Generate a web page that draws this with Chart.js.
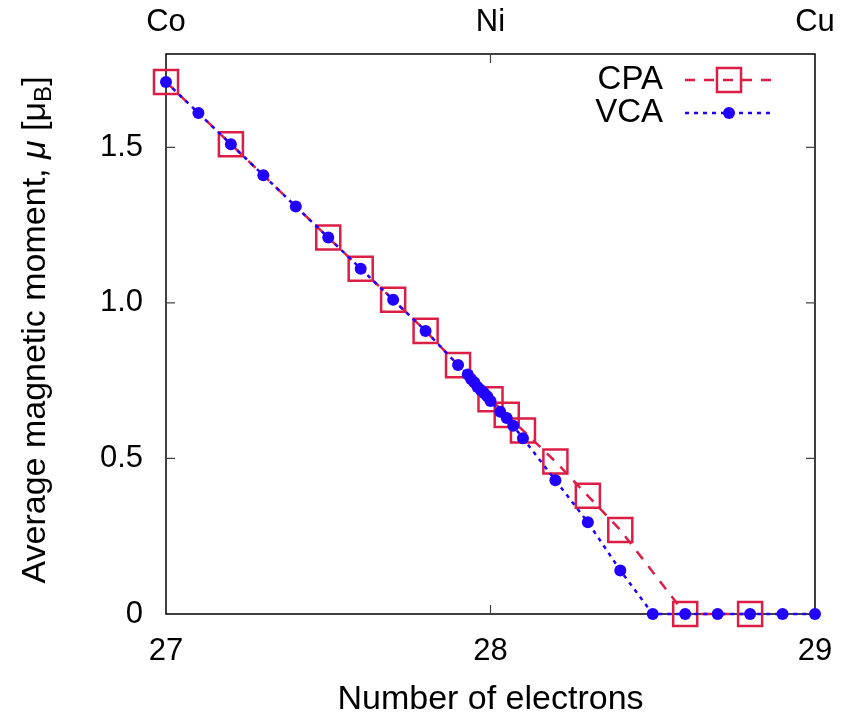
<!DOCTYPE html>
<html>
<head>
<meta charset="utf-8">
<script src="https://cdn.jsdelivr.net/npm/chart.js@4/dist/chart.umd.min.js"></script>
<style>
  body { margin: 0; background: #fff; }
  canvas { display: block; }
</style>
</head>
<body>
<canvas id="myChart" width="842" height="720"></canvas>
<script>
// values
const xCPA = [27, 27.2, 27.5, 27.6, 27.7, 27.8, 27.9, 28.0, 28.05, 28.1, 28.2, 28.3, 28.4, 28.6, 28.8];
const muCPA = [1.71, 1.51, 1.21, 1.11, 1.01, 0.91, 0.80, 0.69, 0.64, 0.59, 0.49, 0.38, 0.27, 0, 0];

const xVCA = [27, 27.1, 27.2, 27.3, 27.4, 27.5, 27.6, 27.7, 27.8, 27.9, 27.93, 27.94, 27.95, 27.96, 27.97,
              27.98, 27.99, 28.0, 28.03, 28.05, 28.07, 28.1, 28.2, 28.3, 28.4, 28.5, 28.6, 28.7, 28.8, 28.9, 29];
const muVCA = [1.71, 1.61, 1.51, 1.41, 1.31, 1.21, 1.11, 1.01, 0.91, 0.80, 0.77, 0.755, 0.745, 0.73, 0.72,
               0.71, 0.70, 0.685, 0.65, 0.63, 0.605, 0.565, 0.43, 0.295, 0.14, 0, 0, 0, 0, 0, 0];

const xTicks = [27, 28, 29];
const topLabels = ['Co', 'Ni', 'Cu'];
const yTicks = [0, 0.5, 1.0, 1.5];

const FONT = '"Liberation Sans", Arial, sans-serif';
const red = '#dc1e46';
const blue = '#2200ff';

Chart.defaults.font.family = FONT;
Chart.defaults.color = '#000';

const toPoints = (xs, ys) => xs.map((x, i) => ({ x: x, y: ys[i] }));

// frame, inward ticks, y title and gnuplot-like key
const framePlugin = {
  id: 'frame',
  beforeDatasetsDraw(chart) {
    const { ctx, chartArea: a, scales } = chart;
    ctx.save();
    ctx.strokeStyle = '#000';
    ctx.lineWidth = 1.5;
    ctx.strokeRect(a.left, a.top, a.right - a.left, a.bottom - a.top);
    ctx.lineWidth = 1.2;
    ctx.strokeStyle = '#444';
    const len = 9;
    yTicks.forEach(v => {
      if (v === 0) return;
      const py = scales.y.getPixelForValue(v);
      ctx.beginPath();
      ctx.moveTo(a.left, py); ctx.lineTo(a.left + len, py);
      ctx.moveTo(a.right, py); ctx.lineTo(a.right - len, py);
      ctx.stroke();
    });
    xTicks.forEach(v => {
      if (v === 27 || v === 29) return;
      const px = scales.x.getPixelForValue(v);
      ctx.beginPath();
      ctx.moveTo(px, a.bottom); ctx.lineTo(px, a.bottom - len);
      ctx.moveTo(px, a.top); ctx.lineTo(px, a.top + len);
      ctx.stroke();
    });
    ctx.restore();
  },
  afterDraw(chart) {
    const { ctx, chartArea: a } = chart;
    ctx.save();
    // y axis title with italic mu and subscript B
    const size = 34;
    const parts = [
      { t: 'Average magnetic moment, ', f: `${size}px ${FONT}`, dy: 0 },
      { t: 'μ', f: `italic ${size}px ${FONT}`, dy: 0 },
      { t: ' [μ', f: `${size}px ${FONT}`, dy: 0 },
      { t: 'B', f: `${Math.round(size * 0.7)}px ${FONT}`, dy: 8 },
      { t: ']', f: `${size}px ${FONT}`, dy: 0 }
    ];
    let total = 0;
    parts.forEach(p => { ctx.font = p.f; p.w = ctx.measureText(p.t).width; total += p.w; });
    ctx.translate(36, (a.top + a.bottom) / 2 - 4);
    ctx.rotate(-Math.PI / 2);
    ctx.fillStyle = '#000';
    ctx.textBaseline = 'middle';
    ctx.textAlign = 'left';
    let x = -total / 2;
    parts.forEach(p => { ctx.font = p.f; ctx.fillText(p.t, x, p.dy); x += p.w; });
    ctx.restore();

    // key
    ctx.save();
    const rows = [
      { label: 'CPA', ds: chart.data.datasets[0], y: 80 },
      { label: 'VCA', ds: chart.data.datasets[1], y: 113 }
    ];
    rows.forEach(r => {
      ctx.font = `33px ${FONT}`;
      ctx.fillStyle = '#000';
      ctx.textAlign = 'right';
      ctx.textBaseline = 'middle';
      ctx.fillText(r.label, 663, r.y);
      ctx.strokeStyle = r.ds.borderColor;
      ctx.lineWidth = r.ds.borderWidth;
      ctx.setLineDash(r.ds.borderDash);
      ctx.beginPath();
      ctx.moveTo(685, r.y); ctx.lineTo(774, r.y);
      ctx.stroke();
      ctx.setLineDash([]);
      const cx = 729;
      if (r.ds.pointStyle === 'rect') {
        const s = r.ds.pointRadius * Math.SQRT1_2;
        ctx.strokeStyle = r.ds.pointBorderColor;
        ctx.lineWidth = r.ds.pointBorderWidth;
        ctx.strokeRect(cx - s, r.y - s, 2 * s, 2 * s);
      } else {
        ctx.fillStyle = r.ds.pointBackgroundColor;
        ctx.beginPath();
        ctx.arc(cx, r.y, r.ds.pointRadius, 0, Math.PI * 2);
        ctx.fill();
      }
    });
    ctx.restore();
  }
};

const noSidePad = s => { s.paddingLeft = 0; s.paddingRight = 0; };

const ctx = document.getElementById('myChart').getContext('2d');
const chart = new Chart(ctx, {
  type: 'scatter',
  data: {
    datasets: [{
      label: 'CPA',
      data: toPoints(xCPA, muCPA),
      showLine: true,
      borderColor: red,
      borderWidth: 2.5,
      borderDash: [10, 9],
      pointStyle: 'rect',
      pointRadius: 17,
      pointHoverRadius: 17,
      pointBorderColor: red,
      pointBorderWidth: 2.5,
      pointBackgroundColor: 'rgba(0,0,0,0)',
      clip: false,
      order: 2
    }, {
      label: 'VCA',
      data: toPoints(xVCA, muVCA),
      showLine: true,
      borderColor: blue,
      borderWidth: 2.5,
      borderDash: [4, 5],
      pointStyle: 'circle',
      pointRadius: 6,
      pointHoverRadius: 6,
      pointBorderWidth: 0,
      pointBackgroundColor: blue,
      pointBorderColor: blue,
      clip: false,
      order: 1
    }]
  },
  options: {
    responsive: false,
    animation: false,
    layout: { padding: { left: 0, right: 27, top: 0, bottom: 0 } },
    plugins: {
      legend: { display: false },
      tooltip: { enabled: false }
    },
    scales: {
      x: {
        type: 'linear',
        position: 'bottom',
        min: 27, max: 29,
        afterBuildTicks: s => { s.ticks = xTicks.map(v => ({ value: v })); },
        afterFit: s => { s.height = 106; noSidePad(s); },
        grid: { display: false, drawTicks: false },
        border: { display: false },
        ticks: { font: { size: 31 }, padding: 19, maxRotation: 0, callback: v => String(v) },
        title: {
          display: true,
          text: 'Number of electrons',
          font: { size: 34 },
          padding: { top: 0, bottom: 0 }
        }
      },
      x2: {
        type: 'linear',
        position: 'top',
        min: 27, max: 29,
        afterBuildTicks: s => { s.ticks = xTicks.map(v => ({ value: v })); },
        afterFit: s => { s.height = 54; noSidePad(s); },
        grid: { display: false, drawTicks: false },
        border: { display: false },
        ticks: {
          font: { size: 31 }, padding: 13, maxRotation: 0,
          callback: (v, i) => topLabels[i]
        }
      },
      y: {
        type: 'linear',
        min: 0, max: 1.8,
        afterBuildTicks: s => { s.ticks = yTicks.map(v => ({ value: v })); },
        afterFit: s => { s.width = 166; s.paddingTop = 0; s.paddingBottom = 0; },
        grid: { display: false, drawTicks: false },
        border: { display: false },
        ticks: {
          font: { size: 31 }, padding: 23,
          callback: v => v === 0 ? '0' : v.toFixed(1)
        }
      }
    }
  },
  plugins: [framePlugin]
});
</script>
</body>
</html>
